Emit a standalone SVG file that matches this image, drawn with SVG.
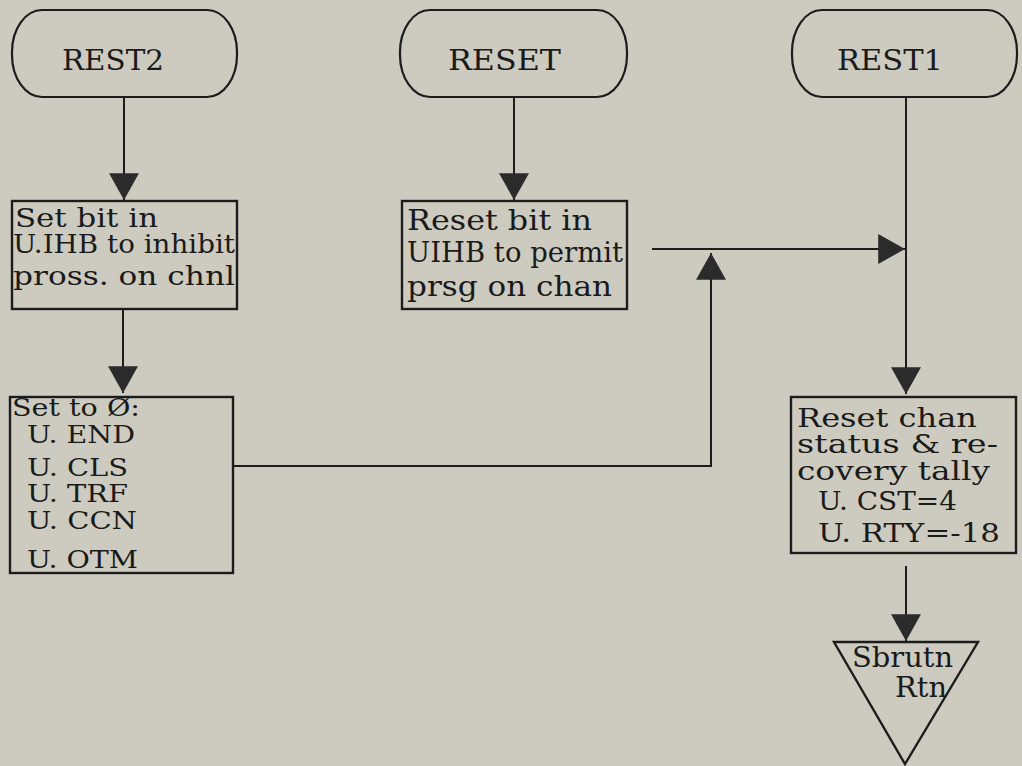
<svg xmlns="http://www.w3.org/2000/svg" width="1022" height="766" viewBox="0 0 1022 766">
<style>
.bg{fill:#cdcbc0}
.term{fill:none;stroke:#1c1c1c;stroke-width:2.2}
.box{fill:none;stroke:#1c1c1c;stroke-width:2.4}
.ln{fill:none;stroke:#1c1c1c;stroke-width:2;marker-end:url(#ah)}
text{font-family:"DejaVu Serif","Liberation Serif",serif;fill:#1a1a1a}
.t{font-size:27px}
.b{font-size:26px}
.b2{font-size:28px}
.b3{font-size:25px}
.e{font-size:28px}
</style>
<defs>
<marker id="ah" markerUnits="userSpaceOnUse" markerWidth="28" markerHeight="30" viewBox="0 0 26 28" refX="25" refY="14" orient="auto">
<path d="M0,0 L25,14 L0,28 Z" fill="#2b2b2b"/>
</marker>
</defs>
<rect class="bg" x="0" y="0" width="1022" height="766"/>

<g id="connectors">
<path class="ln" d="M124,97 V200"/>
<path class="ln" d="M514,97 V200"/>
<path class="ln" d="M906,97 V394"/>
<path class="ln" d="M652,249 H905"/>
<path class="ln" d="M123,309 V393"/>
<path class="ln" d="M233,466 H711 V253"/>
<path class="ln" d="M906,566 V641"/>
</g>

<g id="rest2">
<rect class="term" x="12" y="10" width="225" height="87" rx="30" ry="42"/>
<text class="t" x="62" y="70" textLength="102" lengthAdjust="spacingAndGlyphs">REST2</text>
</g>
<g id="reset">
<rect class="term" x="400" y="10" width="227" height="87" rx="30" ry="42"/>
<text class="t" x="448" y="70" textLength="113" lengthAdjust="spacingAndGlyphs">RESET</text>
</g>
<g id="rest1">
<rect class="term" x="792" y="10" width="225" height="87" rx="30" ry="42"/>
<text class="t" x="837" y="70" textLength="106" lengthAdjust="spacingAndGlyphs">REST1</text>
</g>

<g id="box-set-bit">
<rect class="box" x="12" y="201" width="225" height="108"/>
<text class="b" x="15" y="227" textLength="143" lengthAdjust="spacingAndGlyphs">Set bit in</text>
<text class="b" x="13" y="253" textLength="222" lengthAdjust="spacingAndGlyphs">U.IHB to inhibit</text>
<text class="b" x="13" y="285" textLength="222" lengthAdjust="spacingAndGlyphs">pross. on chnl</text>
</g>

<g id="box-reset-bit">
<rect class="box" x="402" y="201" width="225" height="108"/>
<text class="b2" x="407" y="230" textLength="185" lengthAdjust="spacingAndGlyphs">Reset bit in</text>
<text class="b2" x="407" y="262" textLength="216" lengthAdjust="spacingAndGlyphs">UIHB to permit</text>
<text class="b2" x="407" y="296" textLength="205" lengthAdjust="spacingAndGlyphs">prsg on chan</text>
</g>

<g id="box-set-zero">
<rect class="box" x="10" y="397" width="223" height="176"/>
<text class="b3" x="12" y="416" textLength="128" lengthAdjust="spacingAndGlyphs">Set to Ø:</text>
<text class="b3" x="27" y="443" textLength="108" lengthAdjust="spacingAndGlyphs">U. END</text>
<text class="b3" x="27" y="476" textLength="101" lengthAdjust="spacingAndGlyphs">U. CLS</text>
<text class="b3" x="27" y="502" textLength="101" lengthAdjust="spacingAndGlyphs">U. TRF</text>
<text class="b3" x="27" y="529" textLength="110" lengthAdjust="spacingAndGlyphs">U. CCN</text>
<text class="b3" x="27" y="568" textLength="111" lengthAdjust="spacingAndGlyphs">U. OTM</text>
</g>

<g id="box-reset-chan">
<rect class="box" x="791" y="397" width="225" height="156"/>
<text class="b" x="797" y="427" textLength="180" lengthAdjust="spacingAndGlyphs">Reset chan</text>
<text class="b" x="797" y="453" textLength="201" lengthAdjust="spacingAndGlyphs">status &amp; re-</text>
<text class="b" x="797" y="480" textLength="193" lengthAdjust="spacingAndGlyphs">covery tally</text>
<text class="b" x="818" y="510" textLength="139" lengthAdjust="spacingAndGlyphs">U. CST=4</text>
<text class="b" x="818" y="542" textLength="182" lengthAdjust="spacingAndGlyphs">U. RTY=-18</text>
</g>

<g id="subrtn">
<polygon class="box" points="834,642 978,642 905,764"/>
<text class="e" x="852" y="667" textLength="101" lengthAdjust="spacingAndGlyphs">Sbrutn</text>
<text class="e" x="895" y="697" textLength="52" lengthAdjust="spacingAndGlyphs">Rtn</text>
</g>
</svg>
